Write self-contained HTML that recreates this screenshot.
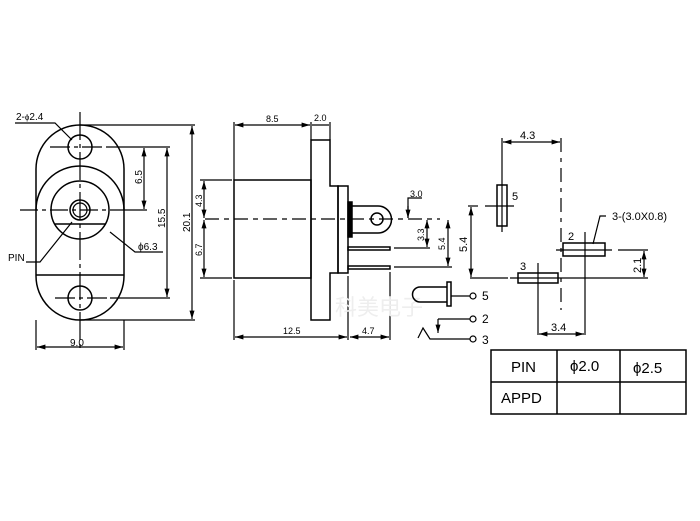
<!DOCTYPE html>
<html><head><meta charset="utf-8"><style>body{margin:0;background:#fff}svg{display:block}</style></head><body>
<svg width="700" height="521" viewBox="0 0 700 521" xmlns="http://www.w3.org/2000/svg" font-family="Liberation Sans, sans-serif" fill="none" stroke="#000" stroke-width="1.2">
<defs><marker id="a" viewBox="0 0 10 10" refX="10" refY="5" markerWidth="7" markerHeight="7" orient="auto-start-reverse"><path d="M0,2 L10,5 L0,8" fill="#000" stroke="none"/></marker></defs>
<!-- front view -->
<path d="M36,169 A44,44 0 0 1 124,169 L124,276 A44,44 0 0 1 36,276 Z" stroke-width="1.5"/>
<path d="M36,210 A44,44 0 0 1 124,210" stroke-width="1.5"/>
<line x1="36" y1="275" x2="124" y2="275" stroke-width="1.5"/>
<circle cx="80" cy="210" r="29" stroke-width="1.5"/>
<circle cx="80" cy="210" r="10" stroke-width="1.5"/><circle cx="80" cy="210" r="7"/>
<line x1="55" y1="224" x2="106" y2="224" stroke-width="1.5"/>
<circle cx="80" cy="147" r="12" stroke-width="1.5"/><circle cx="80" cy="298" r="12" stroke-width="1.5"/>
<line x1="80" y1="112" x2="80" y2="352" stroke-dasharray="28,4,4,4"/>
<line x1="50" y1="147" x2="110" y2="147" stroke-dasharray="20,4,4,4"/>
<line x1="55" y1="298" x2="110" y2="298" stroke-dasharray="20,4,4,4"/>
<line x1="20" y1="210" x2="118" y2="210" stroke-dasharray="18,4,4,4"/>
<line x1="80" y1="125" x2="195" y2="125"/><line x1="80" y1="320" x2="195" y2="320"/>
<line x1="192" y1="126" x2="192" y2="319" marker-start="url(#a)" marker-end="url(#a)"/>
<line x1="110" y1="147" x2="170" y2="147"/><line x1="110" y1="298" x2="170" y2="298"/>
<line x1="167" y1="148" x2="167" y2="297" marker-start="url(#a)" marker-end="url(#a)"/>
<line x1="118" y1="210" x2="147" y2="210"/>
<line x1="144" y1="148" x2="144" y2="209" marker-start="url(#a)" marker-end="url(#a)"/>
<line x1="36" y1="320" x2="36" y2="350"/><line x1="124" y1="320" x2="124" y2="350"/>
<line x1="37" y1="347" x2="123" y2="347" marker-start="url(#a)" marker-end="url(#a)"/>
<path d="M15,123 L55,123 L72,140"/><path d="M26,262 L40,262 L72,222"/><path d="M163,252 L135,252 L110,232"/>
<g fill="#000" stroke="none" font-size="10">
<text x="16" y="120">2-<tspan font-size="8">ϕ</tspan>2.4</text>
<text x="8" y="261">PIN</text>
<text x="138" y="250">ϕ6.3</text>
<text x="70" y="346">9.0</text>
<text transform="translate(190,232) rotate(-90)">20.1</text>
<text transform="translate(165,228) rotate(-90)">15.5</text>
<text transform="translate(142,184) rotate(-90)">6.5</text>
</g>
<!-- side view -->
<g stroke-width="1.5">
<rect x="234" y="180" width="77" height="98"/>
<path d="M311,140 H330 V186 H338 V273 H330 V320 H311 Z"/>
<rect x="338" y="186" width="10" height="87"/>
<rect x="348" y="202" width="4" height="35" fill="#000"/>
<path d="M352,206 H378 A13,13 0 0 1 378,233 H352"/>
<circle cx="377" cy="219" r="6"/>
<rect x="348" y="247" width="42" height="3"/><rect x="348" y="266" width="42" height="3"/>
</g>
<line x1="205" y1="219" x2="440" y2="219" stroke-dasharray="14,5,5,5"/>
<line x1="234" y1="122" x2="234" y2="180"/><line x1="311" y1="122" x2="311" y2="140"/><line x1="330" y1="122" x2="330" y2="140"/>
<line x1="235" y1="125" x2="310" y2="125" marker-start="url(#a)" marker-end="url(#a)"/>
<line x1="312" y1="125" x2="329" y2="125"/>
<line x1="200" y1="180" x2="232" y2="180"/><line x1="200" y1="278" x2="232" y2="278"/>
<line x1="204" y1="181" x2="204" y2="218" marker-start="url(#a)" marker-end="url(#a)"/>
<line x1="204" y1="220" x2="204" y2="277" marker-start="url(#a)" marker-end="url(#a)"/>
<line x1="234" y1="280" x2="234" y2="340"/><line x1="348" y1="276" x2="348" y2="340"/><line x1="390" y1="272" x2="390" y2="340"/>
<line x1="235" y1="337" x2="347" y2="337" marker-start="url(#a)" marker-end="url(#a)"/>
<line x1="350" y1="337" x2="389" y2="337" marker-start="url(#a)" marker-end="url(#a)"/>
<line x1="394" y1="248" x2="430" y2="248"/><line x1="394" y1="267" x2="452" y2="267"/>
<line x1="427" y1="220" x2="427" y2="247" marker-start="url(#a)" marker-end="url(#a)"/>
<line x1="448" y1="220" x2="448" y2="266" marker-start="url(#a)" marker-end="url(#a)"/>
<path d="M422,198 H408 V218" /><line x1="408" y1="206" x2="408" y2="218" marker-end="url(#a)"/>
<g fill="#000" stroke="none" font-size="9">
<text x="266" y="122">8.5</text><text x="314" y="121">2.0</text>
<text x="410" y="197">3.0</text>
<text x="283" y="334">12.5</text><text x="362" y="334">4.7</text>
<text transform="translate(202,207) rotate(-90)">4.3</text>
<text transform="translate(202,256) rotate(-90)">6.7</text>
<text transform="translate(424,241) rotate(-90)">3.3</text>
<text transform="translate(445,250) rotate(-90)">5.4</text>
</g>
<text x="335" y="315" font-size="22" fill="#eee" stroke="none" font-family="Noto Sans CJK SC, sans-serif">科美电子</text>
<!-- pin layout -->
<line x1="502" y1="138" x2="502" y2="180"/>
<line x1="561" y1="138" x2="561" y2="310" stroke-dasharray="14,6,4,6"/>
<line x1="503" y1="142" x2="560" y2="142" marker-start="url(#a)" marker-end="url(#a)"/>
<rect x="497" y="185" width="10" height="41" stroke-width="1.5"/>
<line x1="485" y1="206" x2="514" y2="206"/><line x1="502" y1="180" x2="502" y2="232"/>
<line x1="468" y1="206" x2="478" y2="206"/>
<rect x="563" y="243" width="42" height="13" stroke-width="1.5"/>
<line x1="585" y1="232" x2="585" y2="335"/><line x1="556" y1="250" x2="612" y2="250"/>
<line x1="618" y1="250" x2="648" y2="250"/>
<rect x="518" y="273" width="40" height="10" stroke-width="1.5"/>
<line x1="538" y1="263" x2="538" y2="335"/>
<line x1="470" y1="278" x2="508" y2="278"/><line x1="510" y1="278" x2="648" y2="278"/>
<line x1="471" y1="207" x2="471" y2="277" marker-start="url(#a)" marker-end="url(#a)"/>
<line x1="644" y1="251" x2="644" y2="277" marker-start="url(#a)" marker-end="url(#a)"/>
<line x1="539" y1="334" x2="584" y2="334" marker-start="url(#a)" marker-end="url(#a)"/>
<path d="M606,216 L600,216 L593,244"/>
<g fill="#000" stroke="none" font-size="11">
<text x="512" y="200">5</text><text x="568" y="240">2</text><text x="520" y="270">3</text>
<text x="612" y="220">3-(3.0X0.8)</text>
<text x="520" y="139">4.3</text><text x="551" y="331">3.4</text>
<text transform="translate(467,252) rotate(-90)">5.4</text>
<text transform="translate(641,273) rotate(-90)">2.1</text>
</g>
<!-- symbol -->
<path d="M447,287 H420 A7.5,7.5 0 0 0 420,302 H447" stroke-width="1.5"/>
<rect x="447" y="282" width="4" height="24" stroke-width="1.5"/>
<line x1="451" y1="296" x2="470" y2="296"/><circle cx="473" cy="296" r="3"/>
<line x1="438" y1="319" x2="470" y2="319"/><circle cx="473" cy="319" r="3"/>
<line x1="438" y1="319" x2="438" y2="333" marker-end="url(#a)"/>
<path d="M418,338 L423,328 L430,339 H470"/><circle cx="473" cy="339" r="3"/>
<g fill="#000" stroke="none" font-size="12"><text x="482" y="300">5</text><text x="482" y="323">2</text><text x="482" y="344">3</text></g>
<!-- table -->
<rect x="491" y="350" width="195" height="64" stroke-width="1.5"/>
<line x1="491" y1="382" x2="686" y2="382" stroke-width="1.5"/>
<line x1="557" y1="350" x2="557" y2="414" stroke-width="1.5"/><line x1="620" y1="350" x2="620" y2="414" stroke-width="1.5"/>
<g fill="#000" stroke="none" font-size="15"><text x="511" y="372">PIN</text><text x="570" y="371">ϕ2.0</text><text x="633" y="373">ϕ2.5</text><text x="501" y="403">APPD</text></g>
</svg>
</body></html>
